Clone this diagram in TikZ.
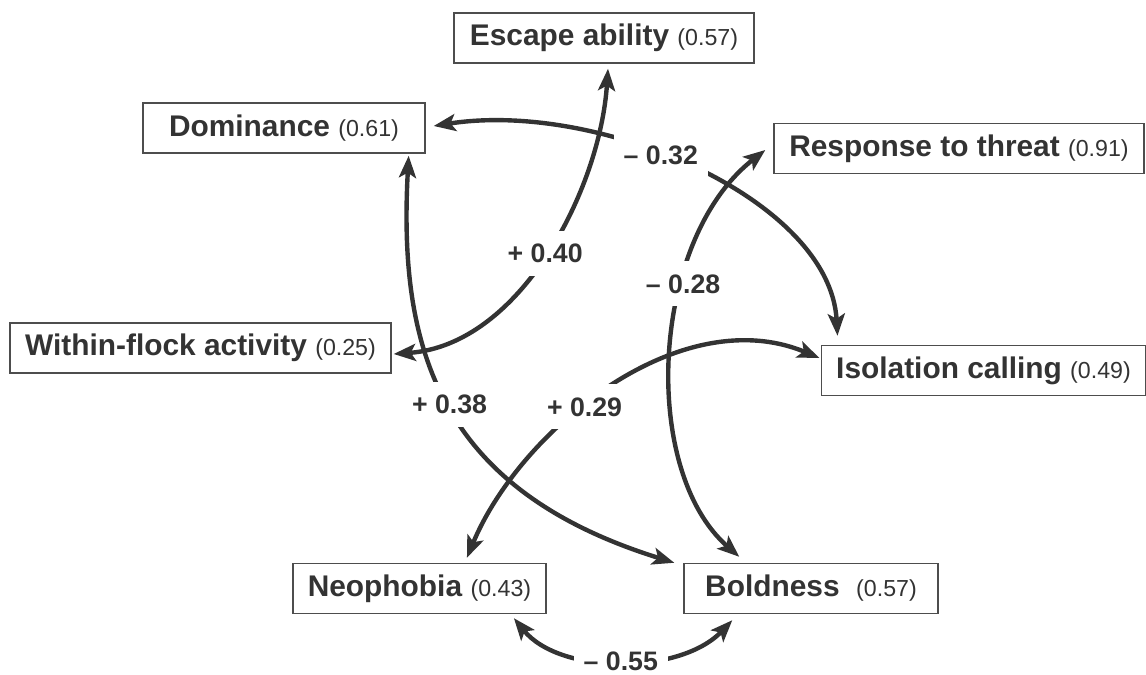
\documentclass[tikz,border=0pt]{standalone}
\usepackage{fontspec}
\setmainfont{Liberation Sans}
\usetikzlibrary{arrows.meta}

\definecolor{ink}{HTML}{333333}
\definecolor{frame}{HTML}{4D4D4D}
\newcommand{\trait}[2]{\textbf{#1} {\fontsize{13.2}{15}\selectfont(#2)}}

\tikzset{
  trait/.style={draw=frame, line width=0.8pt, minimum height=1cm, inner xsep=0.3cm,
    font=\fontsize{17}{19}\selectfont, text=ink},
  link/.style={{Stealth[length=0.44cm,width=0.34cm,inset=0.1cm]}-{Stealth[length=0.44cm,width=0.34cm,inset=0.1cm]},
    line width=2.5pt, draw=ink},
  coef/.style={fill=white, inner xsep=0.2cm, inner ysep=0.26cm,
    font=\fontsize{15.2}{18}\selectfont\bfseries, text=ink}
}

\begin{document}
\begin{tikzpicture}[x=0.02cm, y=-0.02cm]
\useasboundingbox (0,0) rectangle (1146,675);
\node[trait, minimum width=6cm]    (esc)  at (604, 38)   {\trait{Escape ability}{0.57}};
\node[trait, minimum width=5.64cm] (dom)  at (284, 128)  {\trait{Dominance}{0.61}};
\node[trait, minimum width=7.4cm]  (resp) at (959, 148.5) {\trait{Response to threat}{0.91}};
\node[trait, minimum width=7.62cm] (wfa)  at (200.5, 348) {\trait{Within-flock activity}{0.25}};
\node[trait, minimum width=6.38cm] (iso)  at (983.5, 370.5) {\trait{Isolation calling}{0.49}};
\node[trait, minimum width=5.02cm] (neo)  at (419.5, 588.5) {\trait{Neophobia}{0.43}};
\node[trait, minimum width=5.08cm] (bold) at (811, 588.5) {\trait{Boldness\ }{0.57}};

\draw[link] ([xshift=0.16cm,yshift=0.04cm]dom.east) .. controls (600,100) and (830,200) .. ([xshift=0.34cm,yshift=0.18cm]iso.north west) node[coef, pos=0.43] (c32) {– 0.32};
\draw[link] ([xshift=-0.16cm,yshift=-0.03cm]resp.west) .. controls (650,240) and (640,470) .. ([xshift=1.12cm,yshift=0.12cm]bold.north west) node[coef, pos=0.35] (c28) {– 0.28};
\draw[link] ([xshift=0.04cm,yshift=-0.12cm]wfa.east) .. controls (520,345) and (600,190) .. ([xshift=0.08cm,yshift=-0.1cm]esc.south) node[coef, pos=0.5] (c40) {+ 0.40};
\draw[link] ([xshift=-0.34cm,yshift=-0.04cm]dom.south east) .. controls (398,350) and (440,490) .. ([xshift=-0.18cm]bold.north west) node[coef, pos=0.5] (c38) {+ 0.38};
\draw[link] ([xshift=-1.6cm,yshift=0.1cm]neo.north east) .. controls (520,430) and (680,300) .. ([xshift=-0.02cm,yshift=0.25cm]iso.west) node[coef, pos=0.43] (c29) {+ 0.29};
\draw[link] ([xshift=-0.66cm,yshift=-0.08cm]neo.south east) .. controls (560,675) and (680,675) .. ([xshift=0.98cm,yshift=-0.12cm]bold.south west) node[coef, pos=0.5] (c55) {– 0.55};
\end{tikzpicture}
\end{document}
